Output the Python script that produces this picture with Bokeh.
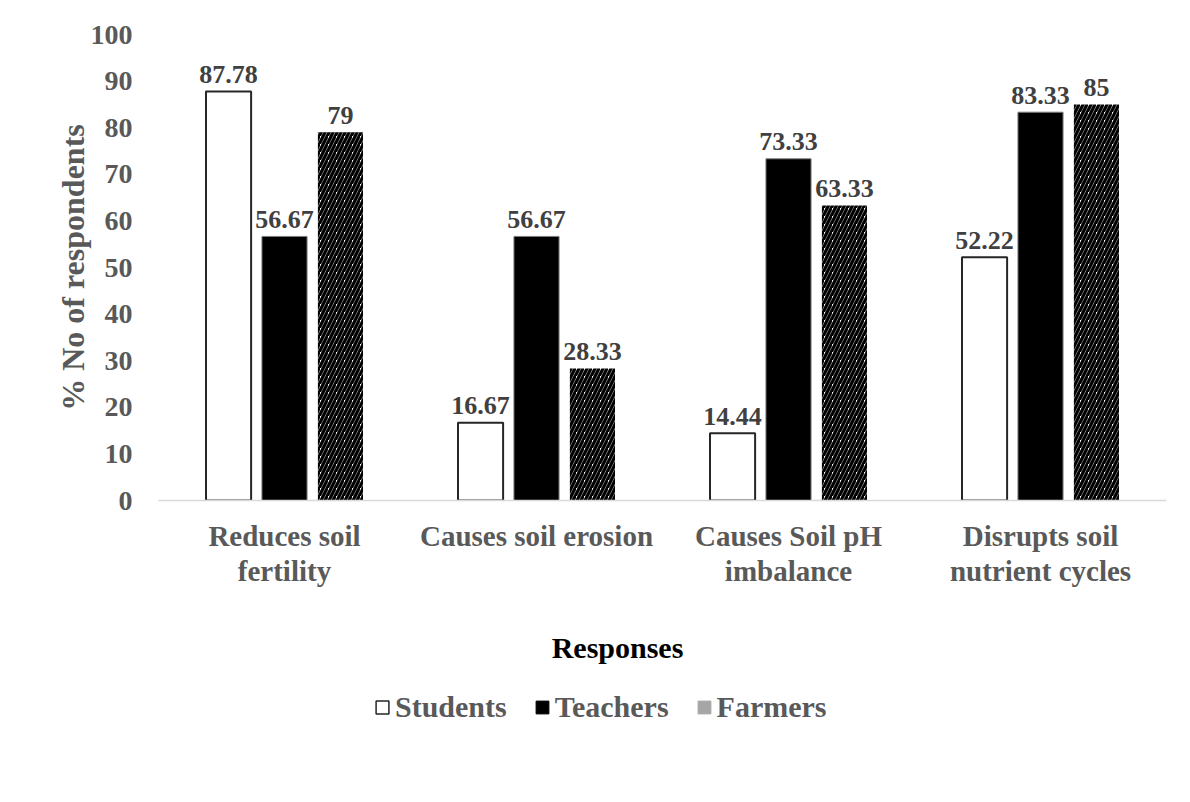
import numpy as np
from bokeh.plotting import figure
from bokeh.models import ColumnDataSource, FactorRange, Range1d, Legend, LegendItem, Label
from bokeh.layouts import column
from bokeh.transform import dodge
from bokeh.core.properties import value
from bokeh.embed import file_html
from bokeh.resources import INLINE

categories = ["Reduces soil\nfertility", "Causes soil erosion", "Causes Soil pH\nimbalance", "Disrupts soil\nnutrient cycles"]
students = [87.78, 16.67, 14.44, 52.22]
teachers = [56.67, 56.67, 73.33, 83.33]
farmers = [79, 28.33, 63.33, 85]
series_names = ["Students", "Teachers", "Farmers"]
y_ticks = [0, 10, 20, 30, 40, 50, 60, 70, 80, 90, 100]
x_title = "Responses"
y_title = "% No of respondents"

FONT = "Liberation Serif"

def fmt(v):
    return ("%g" % v)

src = ColumnDataSource(dict(
    cat=categories,
    students=students, teachers=teachers, farmers=farmers,
    s_lab=[fmt(v) for v in students],
    t_lab=[fmt(v) for v in teachers],
    f_lab=[fmt(v) for v in farmers],
))

p = figure(x_range=FactorRange(factors=categories, range_padding=0),
           y_range=Range1d(0, 100),
           frame_width=1008, frame_height=466,
           min_border_left=158, min_border_right=8,
           min_border_top=34, min_border_bottom=120,
           output_backend="svg", toolbar_location=None,
           background_fill_color="white", border_fill_color="white")
p.outline_line_color = None
p.xgrid.grid_line_color = None
p.ygrid.grid_line_color = None

off = 0.222
w = 0.179
p.vbar(x=dodge("cat", -off, range=p.x_range), top="students", width=w, source=src,
       fill_color="white", line_color="#262626", line_width=2)
p.vbar(x=dodge("cat", 0, range=p.x_range), top="teachers", width=w, source=src,
       fill_color="black", line_color="#7f7f7f", line_width=1)
p.vbar(x=dodge("cat", off, range=p.x_range), top="farmers", width=w, source=src,
       fill_color="white", line_color=None, hatch_pattern="/", hatch_color="black",
       hatch_scale=8, hatch_weight=3.2)

for col, lab, o in [("students", "s_lab", -off), ("teachers", "t_lab", 0), ("farmers", "f_lab", off)]:
    p.text(x=dodge("cat", o, range=p.x_range), y=col, text=lab, source=src,
           text_font=value(FONT), text_font_style="bold", text_font_size="26px",
           text_color="#404040", text_align="center", text_baseline="alphabetic",
           y_offset=-17)

# axes
p.yaxis.ticker = y_ticks
p.yaxis.axis_line_color = None
p.yaxis.major_tick_line_color = None
p.yaxis.minor_tick_line_color = None
p.yaxis.major_label_standoff = 20
p.yaxis.major_label_text_font = FONT
p.yaxis.major_label_text_font_style = "bold"
p.yaxis.major_label_text_font_size = "28px"
p.yaxis.major_label_text_color = "#595959"
p.yaxis.axis_label = y_title
p.yaxis.axis_label_text_font = FONT
p.yaxis.axis_label_text_font_style = "bold"
p.yaxis.axis_label_text_font_size = "32px"
p.yaxis.axis_label_text_color = "#595959"
p.yaxis.axis_label_standoff = -3

p.xaxis.axis_line_color = "#d9d9d9"
p.xaxis.axis_line_width = 1.5
p.xaxis.major_tick_line_color = None
p.xaxis.minor_tick_line_color = None
p.xaxis.major_label_standoff = 13
p.xaxis.major_label_text_font = FONT
p.xaxis.major_label_text_font_style = "bold"
p.xaxis.major_label_text_font_size = "29px"
p.xaxis.major_label_text_line_height = 1.1
p.xaxis.major_label_text_color = "#595959"

# strip below the chart: x-axis title and legend
LG_H = 166
lg = figure(width=1174, height=LG_H, x_range=Range1d(158, 1166), y_range=Range1d(0, LG_H),
            x_axis_type=None, y_axis_type=None,
            min_border_left=0, min_border_right=0, min_border_top=0, min_border_bottom=0,
            output_backend="svg", toolbar_location=None,
            background_fill_color="white", border_fill_color="white")
lg.outline_line_color = None
lg.xgrid.grid_line_color = None
lg.ygrid.grid_line_color = None

lg.add_layout(Label(x=617, y=139, text=x_title, text_align="center", text_baseline="alphabetic",
                    text_font=FONT, text_font_style="bold", text_font_size="30px",
                    text_color="black"))

# legend-only renderers (no visible bar: top is NaN)
def dummy():
    return ColumnDataSource(dict(x=np.array([600.0]), top=np.array([np.nan])))
r1 = lg.vbar(x="x", top="top", width=1, source=dummy(),
             fill_color="white", line_color="#262626", line_width=1.5)
r2 = lg.vbar(x="x", top="top", width=1, source=dummy(),
             fill_color="black", line_color="black")
r3 = lg.vbar(x="x", top="top", width=1, source=dummy(),
             fill_color="#a6a6a6", line_color="#a6a6a6")
legend = Legend(items=[LegendItem(label=series_names[0], renderers=[r1]),
                       LegendItem(label=series_names[1], renderers=[r2]),
                       LegendItem(label=series_names[2], renderers=[r3])],
                orientation="horizontal", location=(216, 62),
                glyph_width=16, glyph_height=16, label_standoff=5, spacing=27,
                padding=0, margin=0, border_line_color=None, background_fill_alpha=0,
                label_text_font=FONT, label_text_font_style="bold",
                label_text_font_size="30px", label_text_color="#595959")
lg.add_layout(legend, "center")

layout = column(p, lg, spacing=0)
open("out.html", "w").write(file_html(layout, INLINE))
